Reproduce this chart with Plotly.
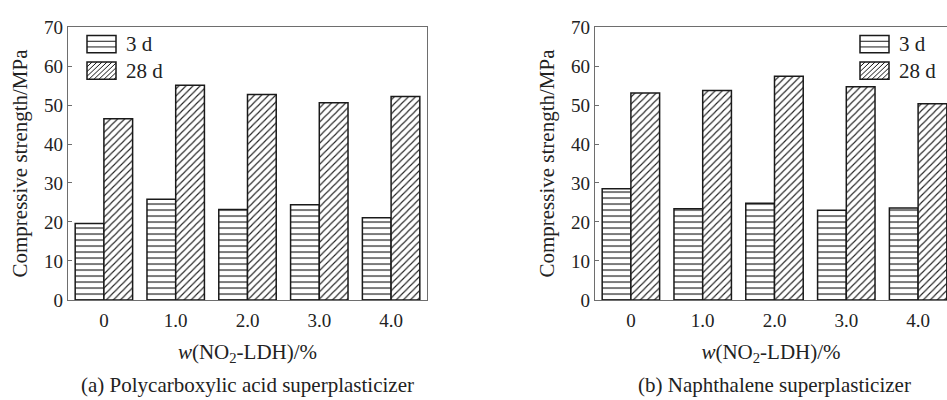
import plotly.graph_objects as go

categories = ["0", "1.0", "2.0", "3.0", "4.0"]
pca_3d = [19.6, 25.8, 23.2, 24.4, 21.1]
pca_28d = [46.5, 55.1, 52.7, 50.6, 52.2]
nap_3d = [28.5, 23.4, 24.8, 23.0, 23.6]
nap_28d = [53.1, 53.7, 57.4, 54.7, 50.3]
series_names = ["3 d", "28 d"]
subtitles = ["(a) Polycarboxylic acid superplasticizer", "(b) Naphthalene superplasticizer"]

W, H = 947, 400
FONT = "Liberation Serif"
AX = "#6e6e6e"
INK = "#1a1a1a"

pat_h = dict(shape="-", size=6, solidity=0.2, fgcolor="#222", bgcolor="white", fillmode="replace")
pat_d = dict(shape="/", size=5, solidity=0.22, fgcolor="#222", bgcolor="white", fillmode="replace")

fig = go.Figure()
for xa, ya, v3, v28 in [("x", "y", pca_3d, pca_28d), ("x2", "y2", nap_3d, nap_28d)]:
    fig.add_trace(go.Bar(x=categories, y=v3, name=series_names[0], xaxis=xa, yaxis=ya, showlegend=False,
                         marker=dict(color="white", pattern=pat_h, line=dict(color=INK, width=1.5))))
    fig.add_trace(go.Bar(x=categories, y=v28, name=series_names[1], xaxis=xa, yaxis=ya, showlegend=False,
                         marker=dict(color="white", pattern=pat_d, line=dict(color=INK, width=1.5))))

y_dom = [1 - 306 / H, 1 - 18 / H]
x1_dom = [68 / W, 427 / W]
x2_dom = [595 / W, 1.0]
unit = (427 - 68) / 5.0
x2_max = -0.5 + (W - 595) / unit

tickfont = dict(family=FONT, size=19, color="#222")
titlefont = dict(family=FONT, size=21, color="#222")

common_x = dict(showline=True, linecolor=AX, linewidth=1.2, ticks="", tickfont=tickfont, ticklabelstandoff=3,
                title=dict(text="<i>w</i>(NO<sub>2</sub>-LDH)/%", font=titlefont, standoff=14),
                showgrid=False, zeroline=False, type="category")
common_y = dict(showline=True, linecolor=AX, linewidth=1.2, ticks="inside", ticklen=4, tickcolor=AX,
                range=[0, 70], dtick=10, tickfont=tickfont, showgrid=False, zeroline=False,
                title=dict(text="Compressive strength/MPa", font=titlefont, standoff=10))

fig.update_layout(
    width=W, height=H, margin=dict(l=0, r=0, t=0, b=0),
    paper_bgcolor="white", plot_bgcolor="white",
    barmode="group", bargap=0.2, bargroupgap=0,
    xaxis=dict(domain=x1_dom, anchor="y", range=[-0.5, 4.5], mirror=True, **common_x),
    yaxis=dict(domain=y_dom, anchor="x", mirror=True, **common_y),
    xaxis2=dict(domain=x2_dom, anchor="y2", range=[-0.5, x2_max], mirror=True, **common_x),
    yaxis2=dict(domain=y_dom, anchor="x2", mirror=False, **common_y),
    font=dict(family=FONT),
    showlegend=False,
)

for txt, dom in zip(subtitles, [x1_dom, [595 / W, (595 + 5 * unit) / W]]):
    fig.add_annotation(text=txt, xref="paper", yref="paper", x=(dom[0] + dom[1]) / 2, y=1 - 396 / H,
                       xanchor="center", yanchor="middle", showarrow=False, font=titlefont)


# custom legend keys (pixel geometry -> paper coordinates)
def px(x):
    return x / W


def py(y):
    return 1 - y / H


def legend_key(x0, y0, kind, label):
    bw, bh = 29, 18
    x1, y1 = x0 + bw, y0 + bh
    fig.add_shape(type="rect", xref="paper", yref="paper", x0=px(x0), x1=px(x1), y0=py(y1), y1=py(y0),
                  line=dict(color=INK, width=1.5), fillcolor="white")
    segs = []
    if kind == "h":
        for yy in (y0 + bh / 3, y0 + 2 * bh / 3):
            segs.append(((x0, yy), (x1, yy)))
    else:
        step = 5
        c = x0 - bh
        while c < x1:
            ta = max(0, x0 - c)
            tb = min(bh, x1 - c)
            if tb > ta:
                segs.append(((c + ta, y1 - ta), (c + tb, y1 - tb)))
            c += step
    for (a, b) in segs:
        fig.add_shape(type="line", xref="paper", yref="paper", x0=px(a[0]), y0=py(a[1]), x1=px(b[0]), y1=py(b[1]),
                      line=dict(color=INK, width=1))
    fig.add_annotation(text=label, xref="paper", yref="paper", x=px(x1 + 8), y=py(y0 + bh / 2),
                       xanchor="left", yanchor="middle", showarrow=False, font=titlefont)


for lx in (87, 860):
    legend_key(lx, 27, "h", series_names[0])
    legend_key(lx, 55, "d", series_names[1])

fig.write_html("out.html")
